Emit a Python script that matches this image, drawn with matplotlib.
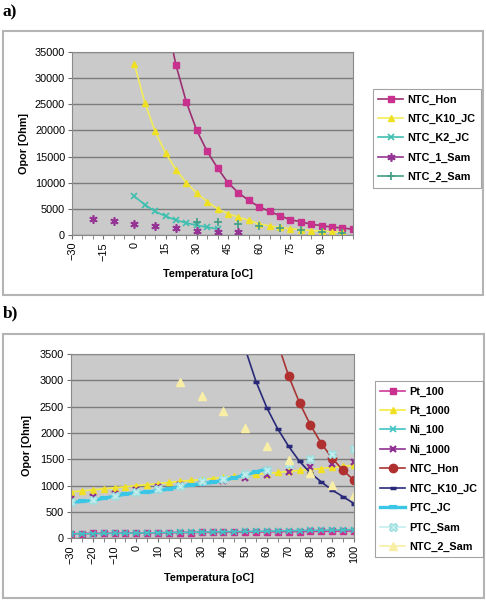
import matplotlib
matplotlib.use("Agg")
import matplotlib.pyplot as plt
from matplotlib.lines import Line2D
from matplotlib.patches import Rectangle

plt.rcParams['font.family'] = ['Liberation Sans', 'DejaVu Sans']

W, H = 486, 600

# ---- chart a) data ----
hon_a_t = [15, 20, 25, 30, 35, 40, 45, 50, 55, 60, 65, 70, 75, 80, 85, 90, 95, 100, 105]
hon_a = [42000, 32500, 25400, 20000, 16000, 12800, 10000, 8100, 6600, 5400,
         4500, 3700, 2900, 2550, 2050, 1800, 1500, 1350, 1100]
k10_a_t = [0, 5, 10, 15, 20, 25, 30, 35, 40, 45, 50, 55, 60, 65, 70, 75, 80, 85, 90, 95, 100]
k10_a = [32700, 25300, 19800, 15700, 12500, 10000, 8000, 6400, 5000, 4100, 3400,
         2850, 2100, 1750, 1450, 1200, 1000, 850, 720, 620, 520]
k2_a_t = [0, 5, 10, 15, 20, 25, 30, 35, 40]
k2_a = [7400, 5800, 4500, 3600, 2850, 2300, 1850, 1500, 1150]
sam1_a_t = [-20, -10, 0, 10, 20, 30, 40, 50]
sam1_a = [3000, 2600, 2100, 1700, 1300, 800, 650, 500]
sam2_a_t = [30, 40, 50, 60, 70, 80, 90, 100]
sam2_a = [2450, 2400, 2100, 1750, 1250, 950, 650, 450]

# ---- chart b) data ----
temps_b = [-30, -25, -20, -15, -10, -5, 0, 5, 10, 15, 20, 25, 30, 35, 40,
           45, 50, 55, 60, 65, 70, 75, 80, 85, 90, 95, 100]
pt100 = [88, 90, 92, 94, 96, 98, 100, 102, 104, 106, 108, 110, 112, 113, 115,
         117, 119, 121, 123, 125, 127, 129, 131, 133, 135, 137, 138]
pt1000 = [880, 900, 920, 940, 960, 980, 1000, 1020, 1040, 1060, 1080, 1100, 1115, 1135,
          1155, 1175, 1195, 1215, 1230, 1250, 1270, 1290, 1305, 1325, 1345, 1365, 1385]
ni100 = [85, 87, 89, 92, 95, 97, 100, 103, 106, 109, 112, 115, 118, 121, 124,
         127, 130, 133, 136, 140, 143, 147, 150, 154, 157, 161, 165]
ni1000_t = [-30, -20, -10, 0, 10, 20, 30, 40, 50, 60, 70, 80, 90, 100]
ni1000 = [745, 790, 850, 920, 980, 1010, 1050, 1080, 1140, 1200, 1265, 1350, 1410, 1455]
hon_b_t = [65, 70, 75, 80, 85, 90, 95, 100]
hon_b = [3700, 3080, 2570, 2150, 1800, 1520, 1290, 1100]
k10_b_t = [45, 50, 55, 60, 65, 70, 75, 80, 85, 90, 95, 100]
k10_b = [4400, 3600, 2975, 2475, 2075, 1745, 1460, 1240, 1070, 915, 790, 660]
ptc_jc_t = [-30, -25, -20, -15, -10, -5, 0, 5, 10, 15, 20, 25, 30, 35, 40, 45, 50, 55, 60]
ptc_jc = [680, 700, 720, 760, 800, 840, 870, 875, 900, 940, 980, 1010, 1040, 1060,
          1100, 1150, 1200, 1260, 1320]
ptc_sam_t = [-30, -20, -10, 0, 10, 20, 30, 40, 50, 60, 70, 80, 90, 100]
ptc_sam = [690, 730, 800, 880, 940, 1000, 1080, 1130, 1230, 1300, 1420, 1500, 1600, 1690]
sam2_b_t = [20, 30, 40, 50, 60, 70, 80, 90, 100]
sam2_b = [2960, 2700, 2410, 2090, 1760, 1490, 1240, 1010, 825]

FS = 7.8


def box(x0, y0, x1, y1):
    return [x0 / W, 1 - y1 / H, (x1 - x0) / W, (y1 - y0) / H]


def frame(fig, x0, y0, x1, y1):
    fig.patches.append(Rectangle((x0 / W, 1 - y1 / H), (x1 - x0) / W, (y1 - y0) / H,
                                 transform=fig.transFigure, fill=False,
                                 ec='#b4b4b4', lw=1.5))


def style(ax, xmin, xmax, xmaj, xlast, ymax, ystep):
    ax.set_facecolor('#cacaca')
    ax.set_xlim(xmin, xmax)
    ax.set_ylim(0, ymax)
    ax.set_xticks(range(xmin, xlast + 1, xmaj))
    ax.set_xticks(range(xmin, int(xmax) + 1, 5), minor=True)
    ax.set_yticks(range(0, ymax + 1, ystep))
    ax.grid(axis='y', color='#7c7c7c', lw=1)
    ax.set_axisbelow(True)
    for s in ax.spines.values():
        s.set_color('#8a8a8a')
    ax.tick_params(axis='x', which='both', labelrotation=90, length=3,
                   color='#707070', labelsize=FS, pad=2)
    ax.tick_params(axis='y', length=3, color='#707070', labelsize=FS, pad=2)


def legend(fig, handles, labels, x, y):
    leg = fig.legend(handles, labels, loc='upper left', bbox_to_anchor=(x / W, 1 - y / H),
                     frameon=True, fancybox=False, edgecolor='#8c8c8c',
                     prop=dict(weight='bold', size=FS), handlelength=2.3,
                     handletextpad=0.4, labelspacing=0.86, borderpad=0.5,
                     borderaxespad=0)
    leg.get_frame().set_linewidth(0.8)


fig = plt.figure(figsize=(W / 100, H / 100), dpi=100)

# ================= a) =================
frame(fig, 3, 31, 483, 295)
ax1 = fig.add_axes(box(72, 52, 352.7, 235))
style(ax1, -30, 105, 15, 90, 35000, 5000)

ax1.plot(hon_a_t, hon_a, color='#9c2f72', lw=1.2, marker='s', ms=5,
         mfc='#c8328e', mec='#c8328e')
ax1.plot(k10_a_t, k10_a, color='#f2ec5a', lw=1.2, marker='^', ms=5,
         mfc='#efe024', mec='#efe024')
ax1.plot(k2_a_t, k2_a, color='#3fbfb0', lw=1.2, marker='x', ms=5, mew=1.2)
ax1.plot(sam1_a_t, sam1_a, ls='none', marker=(6, 2, 0), ms=6, mew=1.2, color='#953394')
ax1.plot(sam2_a_t, sam2_a, ls='none', marker='+', ms=6, mew=1.2, color='#3f9e86')

h_a = [
    Line2D([], [], color='#9c2f72', lw=1.2, marker='s', ms=5, mfc='#c8328e', mec='#c8328e'),
    Line2D([], [], color='#f2ec5a', lw=1.2, marker='^', ms=5, mfc='#efe024', mec='#efe024'),
    Line2D([], [], color='#3fbfb0', lw=1.2, marker='x', ms=5, mew=1.2),
    Line2D([], [], color='#953394', lw=1.2, marker=(6, 2, 0), ms=6, mew=1.2),
    Line2D([], [], color='#3f9e86', lw=1.2, marker='+', ms=6, mew=1.2),
]
legend(fig, h_a, ['NTC_Hon', 'NTC_K10_JC', 'NTC_K2_JC', 'NTC_1_Sam', 'NTC_2_Sam'], 373, 89)

fig.text(24 / W, 1 - 144 / H, 'Opor [Ohm]', rotation=90, ha='center', va='center',
         weight='bold', size=FS)
fig.text(208 / W, 1 - 274 / H, 'Temperatura [oC]', ha='center', va='center',
         weight='bold', size=FS)
fig.text(2 / W, 1 - 12 / H, 'a)', family='Liberation Serif', weight='bold', size=12.5,
         va='center')

# ================= b) =================
frame(fig, 3, 334, 484, 598)
ax2 = fig.add_axes(box(71, 354, 354, 538.3))
style(ax2, -30, 100, 10, 100, 3500, 500)

ax2.plot(temps_b, pt100, color='#d0389a', lw=1.2, marker='s', ms=5,
         mfc='#c8328e', mec='#c8328e')
ax2.plot(temps_b, pt1000, color='#f3ec40', lw=1.2, marker='^', ms=5,
         mfc='#efe024', mec='#efe024')
ax2.plot(temps_b, ni100, color='#40c4c4', lw=1.2, marker='x', ms=5, mew=1.2)
ax2.plot(ni1000_t, ni1000, ls='none', marker='x', ms=5, mew=1.6, color='#8f3090')
ax2.plot(hon_b_t, hon_b, color='#a93434', lw=1.2, marker='o', ms=6,
         mfc='#b03030', mec='#b03030')
ax2.plot(k10_b_t, k10_b, color='#29297a', lw=1.2, marker='_', ms=5, mew=2.5)
ax2.plot(ptc_jc_t, ptc_jc, color='#3cc6e6', lw=2.4, marker='_', ms=6, mew=3)
ax2.plot(ptc_sam_t, ptc_sam, ls='none', marker='X', ms=6, color='#c4eeee', mec='#9fdede')
ax2.plot(sam2_b_t, sam2_b, ls='none', marker='^', ms=6, color='#f8eea6', mec='#f8eea6')

h_b = [
    Line2D([], [], color='#d0389a', lw=1.2, marker='s', ms=5, mfc='#c8328e', mec='#c8328e'),
    Line2D([], [], color='#f3ec40', lw=1.2, marker='^', ms=5, mfc='#efe024', mec='#efe024'),
    Line2D([], [], color='#40c4c4', lw=1.2, marker='x', ms=5, mew=1.2),
    Line2D([], [], color='#8f3090', lw=1.2, marker='x', ms=5, mew=1.6),
    Line2D([], [], color='#a93434', lw=1.2, marker='o', ms=6, mfc='#b03030', mec='#b03030'),
    Line2D([], [], color='#29297a', lw=1.2, marker='_', ms=5, mew=2.5),
    Line2D([], [], color='#3cc6e6', lw=2.4, marker='_', ms=6, mew=3),
    Line2D([], [], color='#c4eeee', lw=1.2, marker='X', ms=6, mec='#9fdede'),
    Line2D([], [], color='#f8eea6', lw=1.2, marker='^', ms=6, mec='#f8eea6'),
]
legend(fig, h_b, ['Pt_100', 'Pt_1000', 'Ni_100', 'Ni_1000', 'NTC_Hon', 'NTC_K10_JC',
                  'PTC_JC', 'PTC_Sam', 'NTC_2_Sam'], 375, 381)

fig.text(27 / W, 1 - 446 / H, 'Opor [Ohm]', rotation=90, ha='center', va='center',
         weight='bold', size=FS)
fig.text(209 / W, 1 - 578 / H, 'Temperatura [oC]', ha='center', va='center',
         weight='bold', size=FS)
fig.text(3 / W, 1 - 313 / H, 'b)', family='Liberation Serif', weight='bold', size=12.5,
         va='center')

fig.savefig('out.png', dpi=100)
